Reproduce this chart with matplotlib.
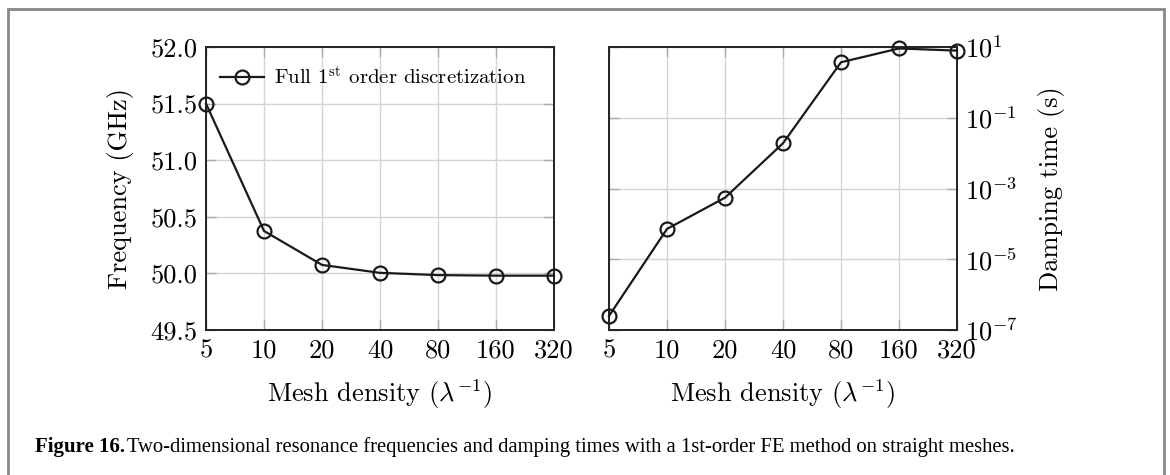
import numpy as np
import matplotlib
matplotlib.use("Agg")
import matplotlib.pyplot as plt
from matplotlib.patches import Rectangle

plt.rcParams['font.family'] = 'cmr10'
plt.rcParams['mathtext.fontset'] = 'cm'
plt.rcParams['axes.formatter.use_mathtext'] = True

# data
mesh = [5, 10, 20, 40, 80, 160, 320]
mesh_labels = ['5', '10', '20', '40', '80', '160', '320']
freq = [51.50, 50.375, 50.075, 50.005, 49.985, 49.98, 49.98]
damping = [2.5e-7, 7.2e-5, 5.5e-4, 1.9e-2, 3.7, 9.1, 7.9]

W, H = 1170, 475
fig = plt.figure(figsize=(W / 100, H / 100), dpi=100)

ax1 = fig.add_axes([206 / W, 1 - 330 / H, 348 / W, 283 / H])
ax2 = fig.add_axes([609 / W, 1 - 330 / H, 348 / W, 283 / H])

line_kw = dict(color='#1a1a1a', lw=1.6, marker='o', ms=10, mfc='none',
               mec='#1a1a1a', mew=1.6, clip_on=False, zorder=5)

ax1.plot(mesh, freq, label=r'Full $1^{\mathrm{st}}$ order discretization', **line_kw)
ax2.plot(mesh, damping, **line_kw)

for ax in (ax1, ax2):
    ax.set_xscale('log', base=2)
    ax.set_xlim(5, 320)
    ax.set_xticks(mesh)
    ax.set_xticklabels(mesh_labels)
    ax.minorticks_off()
    ax.grid(True, color='#d4d4d4', lw=1.0)
    ax.set_axisbelow(True)
    ax.tick_params(direction='in', length=7, width=1, color='#aaaaaa',
                   labelsize=19, top=True, right=True, left=True, bottom=True, pad=6)
    for s in ax.spines.values():
        s.set_linewidth(1.4)
        s.set_color('#222222')
    ax.set_xlabel(r'Mesh density $(\lambda^{-1})$', fontsize=19, labelpad=11)

ax1.set_ylim(49.5, 52.0)
ax1.set_yticks([49.5, 50.0, 50.5, 51.0, 51.5, 52.0])
ax1.set_yticklabels(['49.5', '50.0', '50.5', '51.0', '51.5', '52.0'])
ax1.set_ylabel('Frequency (GHz)', fontsize=19, labelpad=12)
ax1.legend(loc='center left', bbox_to_anchor=(14 / 348, 1 - 30 / 283),
           frameon=False, fontsize=15, handlelength=2.1,
           borderaxespad=0, borderpad=0, handletextpad=0.5)

ax2.set_yscale('log')
ax2.set_ylim(1e-7, 1e1)
ax2.set_yticks([1e-7, 1e-5, 1e-3, 1e-1, 1e1])
ax2.minorticks_off()
ax2.yaxis.set_label_position('right')
ax2.tick_params(axis='y', labelleft=False, labelright=True)
ax2.set_ylabel('Damping time (s)', fontsize=19, labelpad=14)

# outer page frame
fig.patches.append(Rectangle((8 / W, -0.1), 1156 / W, 1.1 - 9 / H,
                             transform=fig.transFigure, fill=False,
                             ec='#888888', lw=2))

fig.text(35 / W, 1 - 447 / H, 'Figure 16.', fontsize=15, weight='bold',
         family='Liberation Serif', va='center')
fig.text(127 / W, 1 - 447 / H,
         'Two-dimensional resonance frequencies and damping times with a 1st-order FE method on straight meshes.',
         fontsize=14.9, family='Liberation Serif', va='center')

fig.savefig('out.png', dpi=100)
